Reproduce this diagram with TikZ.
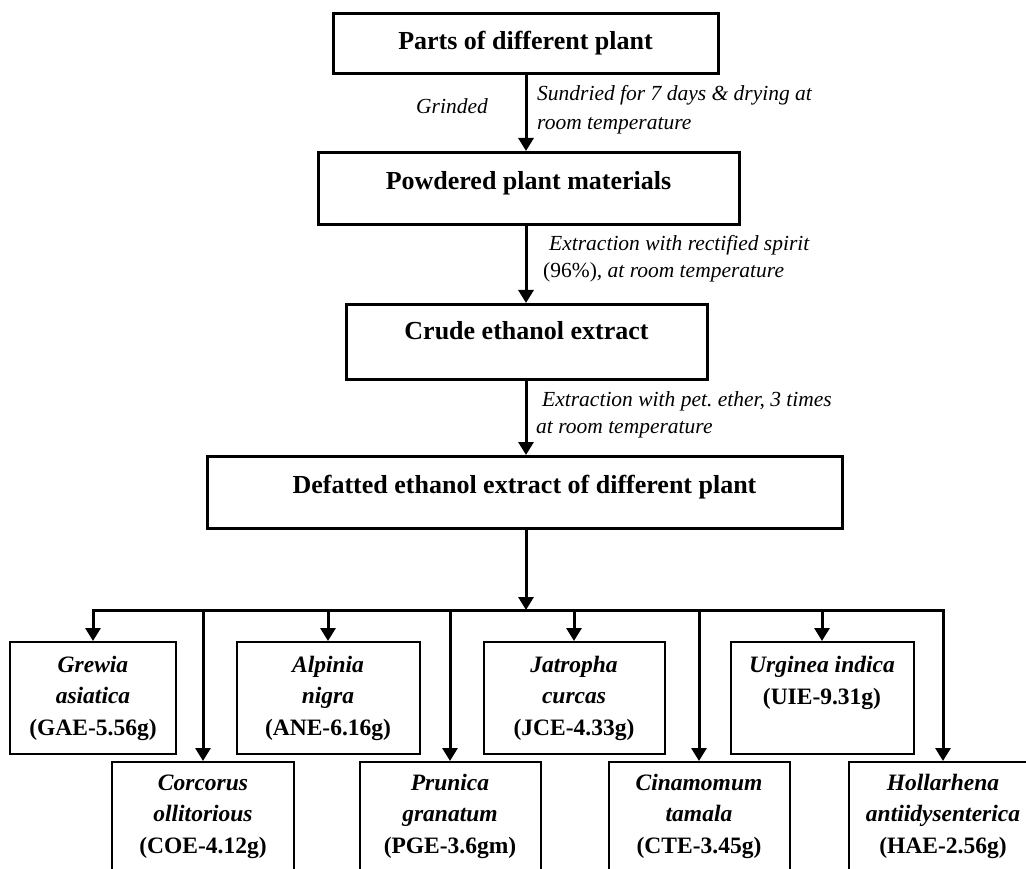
\documentclass[tikz,border=0pt]{standalone}
\usepackage{fontspec}
\setmainfont{Liberation Serif}
\usetikzlibrary{arrows.meta}
\begin{document}
\begin{tikzpicture}[x=1pt,y=-1pt,
  mainbox/.style={draw=black, line width=3pt, inner sep=0pt, anchor=north,
    font=\fontsize{26pt}{31pt}\selectfont\bfseries},
  plantbox/.style={draw=black, line width=2pt, inner sep=0pt, anchor=north, align=center,
    font=\fontsize{23.5pt}{31.5pt}\selectfont\bfseries},
  note/.style={inner sep=0pt, align=left, anchor=base west,
    font=\fontsize{21.5pt}{27pt}\selectfont\itshape},
  arr/.style={line width=3pt, -{Triangle[width=15pt,length=13pt]}},
  barr/.style={line width=3pt, {Triangle[width=15pt,length=13pt]}-{Triangle[width=15pt,length=13pt]}},
]
\useasboundingbox (0,0) rectangle (1026,869);
\clip (0,0) rectangle (1026,869);
\fill[white] (0,0) rectangle (1026,869);

% main column
\node[mainbox, minimum width=385pt, text height=36pt, text depth=24pt] (b1) at (525.5,12) {Parts of different plant};
\node[mainbox, minimum width=421pt, text height=37pt, text depth=35pt] (b2) at (528.5,151) {Powdered plant materials};
\node[mainbox, minimum width=361pt, text height=35pt, text depth=40pt] (b3) at (526.5,303) {Crude ethanol extract};
\node[mainbox, minimum width=635pt, text height=37pt, text depth=35pt] (b4) at (524.5,455) {Defatted ethanol extract of different plant};

\coordinate (spine) at (526,0);
\coordinate (bus) at (0,610);

\draw[arr] (b1.south -| spine) -- (b2.north -| spine);
\draw[arr] (b2.south -| spine) -- (b3.north -| spine);
\draw[arr] (b3.south -| spine) -- (b4.north -| spine);

% notes (anchored at the baseline of their last line)
\node[note] (n0) at (416,114) {Grinded};
\node[note] (n1) at (537,130) {Sundried for 7 days \& drying at\\[2pt]room temperature};
\node[note] (n2) at (543,277) {\hspace{6pt}Extraction with rectified spirit\\{\upshape(96\%)}, at room temperature};
\node[note] (n3) at (536,433) {\hspace{6pt}Extraction with pet.\ ether, 3 times\\at room temperature};

% plant boxes, upper row
\node[plantbox, minimum width=166pt, text height=93pt, text depth=19pt] (g) at (93,641)
  {\textit{Grewia}\\\textit{asiatica}\\(GAE-5.56g)};
\node[plantbox, minimum width=183pt, text height=93pt, text depth=19pt] (a) at (328,641)
  {\textit{Alpinia}\\\textit{nigra}\\(ANE-6.16g)};
\node[plantbox, minimum width=181pt, text height=93pt, text depth=19pt] (j) at (574,641)
  {\textit{Jatropha}\\\textit{curcas}\\(JCE-4.33g)};
\node[plantbox, minimum width=183pt, text height=62pt, text depth=50pt] (u) at (822,641)
  {\textit{Urginea indica}\\(UIE-9.31g)};

% plant boxes, lower row
\node[plantbox, minimum width=182pt, text height=91pt, text depth=30pt] (c) at (203,761)
  {\textit{Corcorus}\\\textit{ollitorious}\\(COE-4.12g)};
\node[plantbox, minimum width=181pt, text height=91pt, text depth=30pt] (p) at (450,761)
  {\textit{Prunica}\\\textit{granatum}\\(PGE-3.6gm)};
\node[plantbox, minimum width=181pt, text height=91pt, text depth=30pt] (ci) at (699,761)
  {\textit{Cinamomum}\\\textit{tamala}\\(CTE-3.45g)};
\node[plantbox, minimum width=188pt, text height=91pt, text depth=30pt] (h) at (943,761)
  {\textit{Hollarhena}\\\textit{antiidysenterica}\\(HAE-2.56g)};

% distribution
\draw[arr] (b4.south -| spine) -- (spine |- bus);
\draw[barr] (g.north) -- (g.north |- bus) -- (h.north |- bus) -- (h.north);
\draw[arr] (c.north |- bus) -- (c.north);
\draw[arr] (a.north |- bus) -- (a.north);
\draw[arr] (p.north |- bus) -- (p.north);
\draw[arr] (j.north |- bus) -- (j.north);
\draw[arr] (ci.north |- bus) -- (ci.north);
\draw[arr] (u.north |- bus) -- (u.north);
\end{tikzpicture}
\end{document}
